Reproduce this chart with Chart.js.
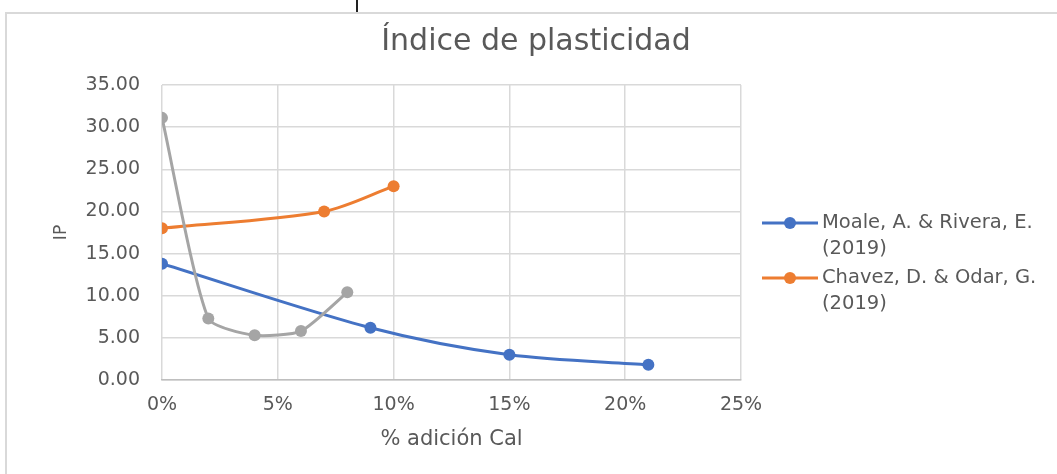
<!DOCTYPE html>
<html>
<head>
<meta charset="utf-8">
<script src="https://cdn.jsdelivr.net/npm/chart.js@4/dist/chart.umd.min.js"></script>
<style>
  body { margin: 0; background: #fff; }
  #frame { position: absolute; left: 5px; top: 12px; width: 1200px; height: 600px;
           border-left: 2px solid #d9d9d9; border-top: 2px solid #d9d9d9; }
  #mark { position: absolute; left: 356px; top: 0; width: 2px; height: 12px; background: #222; }
  #wrap { position: absolute; left: 0; top: 0; width: 1057px; height: 474px; }
</style>
</head>
<body>
<div id="frame"></div>
<div id="mark"></div>
<div id="wrap"><canvas id="ipChart"></canvas></div>
<script>
// % adición de cal (fracción) e índice de plasticidad por estudio
var moaleCal = [0, 0.09, 0.15, 0.21];
var moaleIP = [13.8, 6.2, 3.0, 1.8];
var chavezCal = [0, 0.07, 0.10];
var chavezIP = [18.0, 20.0, 23.0];
var otroCal = [0, 0.02, 0.04, 0.06, 0.08];
var otroIP = [31.1, 7.3, 5.3, 5.8, 10.4];

var xTicks = [0, 0.05, 0.10, 0.15, 0.20, 0.25];
var yTicks = [0, 5, 10, 15, 20, 25, 30, 35];
var legendNames = [
  ['Moale, A. & Rivera, E.', '(2019)'],
  ['Chavez, D. & Odar, G.', '(2019)']
];

var textColor = '#595959';
var gridColor = '#d9d9d9';
var fontFamily = '"DejaVu Sans", sans-serif';

function toPoints(xs, ys) {
  return xs.map(function (x, i) { return { x: x, y: ys[i] }; });
}

function serie(data, color, order, tension) {
  return {
    data: data,
    showLine: true,
    borderColor: color,
    backgroundColor: color,
    borderWidth: 3,
    pointRadius: 6,
    pointBorderWidth: 0,
    tension: tension,
    order: order
  };
}

// titulo y leyenda de dos lineas, dibujados a mano
var extras = {
  id: 'extras',
  afterDraw: function (chart) {
    var ctx = chart.ctx;
    ctx.save();
    ctx.fillStyle = textColor;
    ctx.textAlign = 'center';
    ctx.textBaseline = 'alphabetic';
    ctx.font = '30px ' + fontFamily;
    ctx.fillText('Índice de plasticidad', 536, 50);

    ctx.textAlign = 'left';
    ctx.textBaseline = 'middle';
    ctx.font = '19.5px ' + fontFamily;
    legendNames.forEach(function (lines, i) {
      var ds = chart.data.datasets[i];
      var y = 223 + i * 55;
      ctx.strokeStyle = ds.borderColor;
      ctx.lineWidth = 3;
      ctx.beginPath();
      ctx.moveTo(762, y);
      ctx.lineTo(818, y);
      ctx.stroke();
      ctx.fillStyle = ds.backgroundColor;
      ctx.beginPath();
      ctx.arc(790, y, 6, 0, Math.PI * 2);
      ctx.fill();
      ctx.fillStyle = textColor;
      lines.forEach(function (t, j) {
        ctx.fillText(t, 822, y + j * 26);
      });
    });
    ctx.restore();
  }
};

var chart = new Chart(document.getElementById('ipChart'), {
  type: 'scatter',
  data: {
    datasets: [
      serie(toPoints(moaleCal, moaleIP), '#4472c4', 3, 0.3),
      serie(toPoints(chavezCal, chavezIP), '#ed7d31', 2, 0.3),
      serie(toPoints(otroCal, otroIP), '#a5a5a5', 1, 0.2)
    ]
  },
  options: {
    responsive: true,
    maintainAspectRatio: false,
    animation: false,
    layout: { padding: { left: 40, right: 316, top: 85, bottom: 0 } },
    plugins: {
      legend: { display: false },
      tooltip: { enabled: false },
      title: { display: false }
    },
    scales: {
      x: {
        type: 'linear',
        min: 0,
        max: 0.25,
        afterBuildTicks: function (s) { s.ticks = xTicks.map(function (v) { return { value: v }; }); },
        afterFit: function (s) { s.height = 94; },
        grid: { color: gridColor, lineWidth: 1.5, drawTicks: false },
        border: { color: '#bfbfbf', width: 1.5 },
        ticks: {
          padding: 14,
          color: textColor,
          font: { family: fontFamily, size: 19 },
          callback: function (v) { return Math.round(v * 100) + '%'; }
        },
        title: {
          display: true,
          text: '% adición Cal',
          color: textColor,
          font: { family: fontFamily, size: 21 },
          padding: { top: 0, bottom: 22 }
        }
      },
      y: {
        min: 0,
        max: 35,
        afterBuildTicks: function (s) { s.ticks = yTicks.map(function (v) { return { value: v }; }); },
        afterFit: function (s) { s.width = 122; },
        grid: { color: gridColor, lineWidth: 1.5, drawTicks: false },
        border: { display: false },
        ticks: {
          padding: 22,
          color: textColor,
          font: { family: fontFamily, size: 19 },
          callback: function (v) { return v.toFixed(2); }
        },
        title: {
          display: true,
          text: 'IP',
          color: textColor,
          font: { family: fontFamily, size: 17 },
          padding: { top: 11, bottom: 0 }
        }
      }
    }
  },
  plugins: [extras]
});
</script>
</body>
</html>
